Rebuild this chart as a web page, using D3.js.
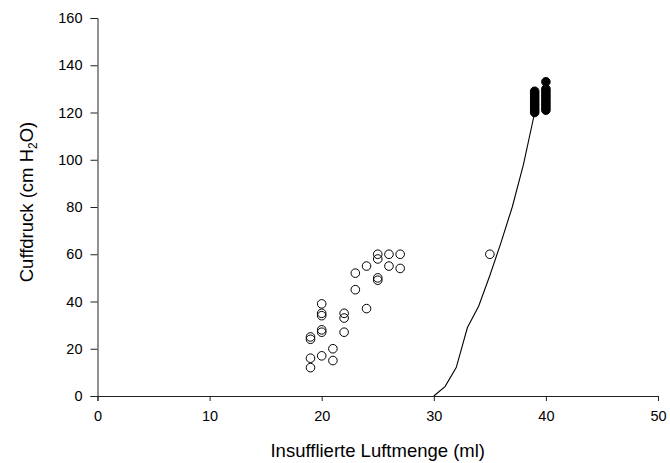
<!DOCTYPE html>
<html>
<head>
<meta charset="utf-8">
<script src="https://d3js.org/d3.v7.min.js"></script>
<style>
  html, body { margin: 0; padding: 0; background: #fff; }
  svg { display: block; }
  text { font-family: "Liberation Sans", Arial, sans-serif; fill: #000; }
</style>
</head>
<body>
<script>
// ---- data ----
const openX = [19, 19, 19, 19, 20, 20, 20, 20, 20, 20, 21, 21, 22, 22, 22, 23, 23, 24, 24, 25, 25, 25, 25, 26, 26, 27, 27, 35];
const openY = [12, 16, 24, 25, 17, 27, 28, 34, 35, 39, 15, 20, 27, 33, 35, 45, 52, 37, 55, 49, 50, 58, 60, 55, 60, 54, 60, 60];

const filledX = [39, 39, 39, 39, 39, 39, 39, 39, 39, 39, 40, 40, 40, 40, 40, 40, 40, 40, 40, 40, 40];
const filledY = [120, 121, 122, 123, 124, 125, 126, 127, 128, 129, 121, 122, 123, 124, 125, 126, 127, 128, 129, 130, 133];

const lineX = [30, 31, 32, 33, 34, 35, 36, 37, 38, 39];
const lineY = [0, 4, 12, 29, 38, 51, 65, 80, 98, 120];

const xTicks = [0, 10, 20, 30, 40, 50];
const yTicks = [0, 20, 40, 60, 80, 100, 120, 140, 160];

const xTitle = "Insufflierte Luftmenge (ml)";
const yTitleMain = "Cuffdruck (cm H";
const yTitleSub = "2";
const yTitleEnd = "O)";

// ---- layout ----
const W = 670, H = 463;
const m = { left: 97.5, top: 18, right: 12, bottom: 67 };

const svg = d3.select("body").append("svg").attr("width", W).attr("height", H);

const x = d3.scaleLinear().domain([0, 50]).range([m.left, W - m.right]);
const y = d3.scaleLinear().domain([0, 160]).range([H - m.bottom, m.top]);

// axes
const xAxis = svg.append("g")
  .attr("transform", `translate(0,${y(0)})`)
  .call(d3.axisBottom(x).tickValues(xTicks).tickSize(5).tickPadding(10).tickFormat(d3.format("d")));
const yAxis = svg.append("g")
  .attr("transform", `translate(${x(0)},0)`)
  .call(d3.axisLeft(y).tickValues(yTicks).tickSize(7).tickPadding(8).tickFormat(d3.format("d")));

[xAxis, yAxis].forEach(g => {
  g.select(".domain").attr("stroke", "#222").attr("stroke-width", 1);
  g.selectAll(".tick line").attr("stroke", "#222");
  g.selectAll(".tick text").attr("font-size", 14.5).attr("font-family", "Liberation Sans, Arial, sans-serif").attr("fill", "#000");
});

// line
const lineData = lineX.map((v, i) => [v, lineY[i]]);
svg.append("path")
  .datum(lineData)
  .attr("fill", "none")
  .attr("stroke", "#000")
  .attr("stroke-width", 1.1)
  .attr("d", d3.line().x(d => x(d[0])).y(d => y(d[1])));

// open circles
svg.append("g").selectAll("circle")
  .data(openX.map((v, i) => [v, openY[i]]))
  .join("circle")
  .attr("cx", d => x(d[0]))
  .attr("cy", d => y(d[1]))
  .attr("r", 4.3)
  .attr("fill", "none")
  .attr("stroke", "#000")
  .attr("stroke-width", 1);

// filled circles
svg.append("g").selectAll("circle")
  .data(filledX.map((v, i) => [v, filledY[i]]))
  .join("circle")
  .attr("cx", d => x(d[0]))
  .attr("cy", d => y(d[1]))
  .attr("r", 4.3)
  .attr("fill", "#000")
  .attr("stroke", "#000")
  .attr("stroke-width", 1);

// titles
svg.append("text")
  .attr("x", (x(0) + x(50)) / 2)
  .attr("y", 457)
  .attr("text-anchor", "middle")
  .attr("font-size", 18.5)
  .text(xTitle);

const yt = svg.append("text")
  .attr("transform", `translate(33,202) rotate(-90)`)
  .attr("text-anchor", "middle")
  .attr("font-size", 18.5);
yt.append("tspan").text(yTitleMain);
yt.append("tspan").attr("font-size", 12).attr("dy", 4).text(yTitleSub);
yt.append("tspan").attr("dy", -4).text(yTitleEnd);
</script>
</body>
</html>
